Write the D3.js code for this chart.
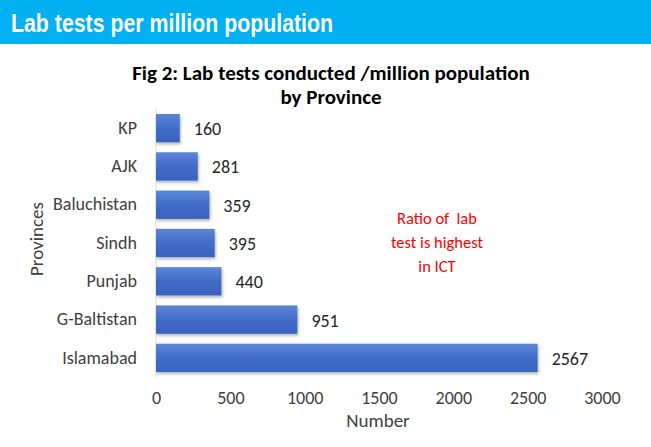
<!DOCTYPE html>
<html><head><meta charset="utf-8">
<script src="https://cdn.jsdelivr.net/npm/d3@7"></script>
<style>html,body{margin:0;padding:0;background:#fff;}</style>
</head><body>
<svg id="c" width="651" height="447"></svg>
<script>
const provinces = ["KP","AJK","Baluchistan","Sindh","Punjab","G-Baltistan","Islamabad"];
const testsPerMillion = [160,281,359,395,440,951,2567];
const xTicks = [0,500,1000,1500,2000,2500,3000];
const headerTitle = "Lab tests per million population";
const chartTitle = ["Fig 2: Lab tests conducted /million population","by Province"];
const note = ["Ratio of  lab","test is highest","in ICT"];

const svg = d3.select("#c");
const font = "Carlito, 'Open Sans', 'Liberation Sans', sans-serif";

svg.append("rect").attr("x",0).attr("y",0).attr("width",651).attr("height",44).attr("fill","#00B0F0");
svg.append("text").attr("transform","translate(11,32) scale(0.82,1)").attr("fill","#fff")
  .attr("font-family","'Liberation Sans', Arial, sans-serif").attr("font-weight","bold").attr("font-size",26)
  .text(headerTitle);

const defs = svg.append("defs");
const g = defs.append("linearGradient").attr("id","bg").attr("x1",0).attr("y1",0).attr("x2",0).attr("y2",1);
g.append("stop").attr("offset","0%").attr("stop-color","#5d87d6");
g.append("stop").attr("offset","50%").attr("stop-color","#416cc8");
g.append("stop").attr("offset","100%").attr("stop-color","#3862c0");
const f = defs.append("filter").attr("id","sh").attr("x","-5%").attr("y","-20%").attr("width","115%").attr("height","160%");
f.append("feDropShadow").attr("dx",1).attr("dy",2).attr("stdDeviation",1.5).attr("flood-color","#000").attr("flood-opacity",0.3);

const x = d3.scaleLinear().domain([0,3000]).range([156,602]);
const y = d3.scaleBand().domain(provinces).range([109,377]).paddingInner(0.26).paddingOuter(0.13);

chartTitle.forEach((t,i)=>{
  svg.append("text").attr("x",331).attr("y",80+i*24).attr("text-anchor","middle")
    .attr("font-family",font).attr("font-weight","bold").attr("font-size",21).attr("fill","#000").text(t);
});

svg.append("line").attr("x1",x(0)).attr("x2",x(0)).attr("y1",109).attr("y2",377).attr("stroke","#d9d9d9").attr("stroke-width",1);

svg.selectAll("rect.bar").data(provinces).enter().append("rect").attr("class","bar")
  .attr("x",x(0)).attr("y",d=>y(d)).attr("height",y.bandwidth())
  .attr("width",(d,i)=>x(testsPerMillion[i])-x(0))
  .attr("fill","url(#bg)").attr("filter","url(#sh)");

svg.selectAll("text.val").data(provinces).enter().append("text").attr("class","val")
  .attr("x",(d,i)=>x(testsPerMillion[i])+14).attr("y",d=>y(d)+y.bandwidth()/2+7)
  .attr("font-family",font).attr("font-size",18).attr("fill","#262626")
  .text((d,i)=>testsPerMillion[i]);

const yAxis = svg.append("g").attr("transform",`translate(${x(0)},0)`)
  .call(d3.axisLeft(y).tickSize(0).tickPadding(19));
yAxis.select(".domain").remove();
yAxis.selectAll("text").attr("font-family",font).attr("font-size",18).attr("fill","#404040");

const xAxis = svg.append("g").attr("transform","translate(0,385)")
  .call(d3.axisBottom(x).tickValues(xTicks).tickSize(0).tickPadding(6).tickFormat(d3.format("d")));
xAxis.select(".domain").remove();
xAxis.selectAll("text").attr("font-family",font).attr("font-size",18).attr("fill","#404040");

svg.append("text").attr("x",378).attr("y",427).attr("text-anchor","middle")
  .attr("font-family",font).attr("font-size",19).attr("fill","#404040").text("Number");
svg.append("text").attr("transform","translate(43,239) rotate(-90)").attr("text-anchor","middle")
  .attr("font-family",font).attr("font-size",19).attr("fill","#404040").text("Provinces");

note.forEach((t,i)=>{
  svg.append("text").attr("x",437).attr("y",224+i*24).attr("text-anchor","middle")
    .style("white-space","pre")
    .attr("font-family",font).attr("font-size",16.5).attr("fill","#FF0000").text(t);
});
</script>
</body></html>
